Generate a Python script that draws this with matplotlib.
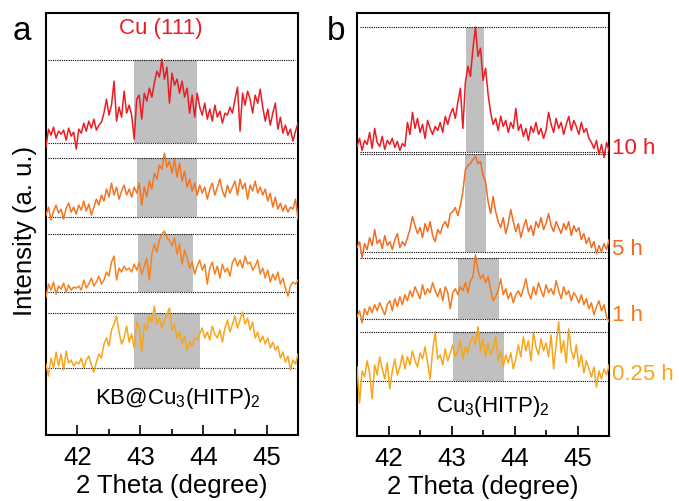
import numpy as np
import matplotlib
matplotlib.use("Agg")
import matplotlib.pyplot as plt

plt.rcParams['font.family'] = ['Liberation Sans', 'DejaVu Sans']
plt.rcParams['mathtext.fontset'] = 'custom'
plt.rcParams['mathtext.rm'] = 'Liberation Sans'
plt.rcParams['mathtext.it'] = 'Liberation Sans:italic'
plt.rcParams['mathtext.bf'] = 'Liberation Sans:bold'

# 2-theta grid shared by every scan
theta = np.linspace(41.5, 45.5, 101)

# panel a: KB@Cu3(HITP)2 scans, counts above each baseline (a.u.)
kb_1 = [-4, 14, 8, 16, 5, 12, 9, 13, 3, 15, 7, 11, -6,
        14, 10, 20, 12, 22, 15, 24, 13, 18, 21,
        30, 44, 28, 38, 62,
        22, 36, 26, 52, 30, 38, 28, 4,
        44, 48, 24, 50, 42, 55, 46,
        60, 72, 66, 84, 64, 76,
        40, 70, 58, 64, 50, 62, 46, 55,
        30, 48, 26, 50,
        36, 28, 40, 24, 34, 22, 38, 26, 32, 20, 30, 28, 36, 30,
        44, 56, 12, 50, 38, 52, 44, 30, 48, 40, 54, 36,
        22, 34, 18, 30, 40, 14, 26,
        10, 18, 8, 14, 2, 12, 20]
kb_2 = [2, 10, -3, 6, 12, 4, 8, -2, 9, 14, 5, 10, 3,
        12, 7, 16, 6, 13, 2, 10, 18, 12, 22,
        16, 28, 20, 34, 22,
        30, 18, 26, 32, 22, 28, 20, 30,
        24, 34, 12, 30, 20, 36, 28,
        44, 38, 52, 48, 64, 50,
        56, 44, 58, 40, 54, 36, 46, 30,
        38, 26, 34, 22,
        32, 24, 30, 18, 28, 34, 22, 30, 38, 26, 20, 32, 24, 30,
        36, 22, 38, 28, 34, 18, 32, 26, 36, 24, 30, 22,
        28, 16, 24, 10, 20, 8, 14,
        6, 12, 5, 10, 8, 18, -2]
kb_3 = [-5, 8, 2, 10, -2, 6, 3, 9, 0, 7, 2, 5, 4,
        6, 2, 12, 4, 8, 14, 6, 10, 16, 8,
        12, 20, 16, 30, 36,
        12, 24, 20, 26, 22, 24, 20, 28,
        22, 30, 18, 26, 34, 12, 38,
        48, 40, 52, 58, 61, 54,
        52, 46, 54, 38, 48, 28, 42, 34,
        24, 30, 18, 26,
        32, 22, 28, 8, 24, 30, 18, 26, 14, 28, 20, 24, 16, 30,
        34, 26, 32, 24, 36, 28, 30, 22, 26, 32, 18, 24,
        14, 22, 10, 18, 12, 20, 8,
        14, 4, -4, 6, 10, 8, 12]
kb_4 = [4, -8, 10, 0, 16, 2, 14, -2, 17, 5, 8, 2, 6,
        4, 10, 0, 8, 12, 3, -4, 6, 14, 10,
        24, 30, 22, 38, 44,
        52, 36, 24, 30, 42, 26, 34, 20,
        46, 40, 16, 44, 38, 52, 46,
        62, 44, 50, 40, 48, 54,
        60, 38, 44, 30, 36, 24, 32, 18,
        26, 22, 30, 28,
        34, 40, 30, 36, 28, 42, 34, 30, 38, 26, 40, 48, 36, 44,
        52, 40, 48, 56, 44, 50, 38, 46, 30, 36, 26, 32,
        24, 30, 20, 26, 18, 22, 10,
        16, 6, 12, -2, 8, 4, 14]

# panel b: Cu3(HITP)2 after 10 h, 5 h, 1 h and 0.25 h
cu_10h = [6, 14, 2, 12, 8, 20, 4, 24, 10, 6, 16, 3, 12, 8, 14, 5, 11, 2, 9, 6,
          30, 18, 40, 24, 34, 20, 28, 14, 32, 24, 18, 26, 22, 30, 20, 36, 28, 38,
          44, 34, 50, 64, 24,
          70, 86, 76, 104,
          125, 96, 104, 72, 84,
          58, 40,
          28, 34, 22, 36, 26, 32, 20, 30, 24, 44,
          22, 28, 16, 24, 12, 26, 20, 30, 18, 24, 14, 22, 40,
          28, 20, 34, 24, 30, 18, 28, 36, 22, 32, 26, 18, 30, 20, 24, 14,
          10, 4, 12, -2, 8, -5, 10, 2]
cu_5h = [4, 10, -6, 8, 2, 14, 6, 22, 8, 12, 3, 16, 6, 10, 2, 12, 18, 4, 10, 6,
         14, 22, 35, 26, 18, 24, 14, 28, 20, 30, 16, 10, 22, 18, 26, 30, 24, 38,
         40, 44, 36, 46, 60,
         82, 86, 88, 92,
         95, 88, 90, 76, 70,
         50, 38,
         55, 40, 30, 24, 34, 18, 28, 42, 30, 20,
         28, 14, 24, 32, 20, 26, 16, 30, 24, 34, 22, 28, 38,
         26, 20, 30, 24, 18, 28, 22, 30, 16, 26, 20, 24, 12, 18, 8, 14,
         4, 10, -2, 6, 0, 8, 2, 12]
cu_1h = [2, 8, -4, 10, 4, 12, 6, 14, 8, 16, 10, 4, 14, 18, 8, 20, 12, 22, 14, 24,
         18, 28, 22, 32, 26, 20, 34, 24, 30, 26, 36, 28, 22, 30, 18, 32, 26, 10,
         26, 30, 24, 32, 28,
         36, 26, 38, 42,
         64, 48, 40, 44, 36,
         42, 30,
         18, 22, 28, 40, 24, 30, 20, 26, 16, 24,
         28, 22, 30, 40, 26, 20, 32, 24, 36, 28, 22, 34, 26,
         30, 24, 38, 28, 20, 32, 24, 28, 18, 26, 22, 16, 24, 14, 20, 10,
         16, 4, 12, 18, 8, 14, 2, -3]
cu_025h = [14, -22, 10, 4, 20, 8, -18, 16, 6, 24, 12, 2, 18, -8, 10, 22, 6, 14, 26, 12,
           24, 16, 30, 20, 14, 28, 22, 34, 18, 2, 30, 49, 22, 26, 16, 32, 20, 28,
           36, 24, 30, 40, 22,
           34, 28, 40, 44,
           36, 54, 30, 42, 24,
           38, 26,
           32, 44, 20, 30, 14, 26, 18, 28, 12, 22,
           36, 24, 44, 30, 40, 20, 48, 34, 26, 42, 30, 38, 24,
           46, 12, 36, 59, 28, 40, 18, 52, 30, 22, 36, 14, 26, 8, 20, 12,
           4, 14, -6, 10, 2, 12, 6, 16]

# Cu (111) window highlighted on each scan
bands_a = [(42.89, 43.90), (42.94, 43.90), (42.96, 43.84), (42.89, 43.94)]
bands_b = [(43.23, 43.52), (43.21, 43.55), (43.10, 43.75), (43.02, 43.83)]
time_labels = ['10 h', '5 h', '1 h', '0.25 h']

# stacking: baseline and reference level of each scan
base_a = [292, 218, 143, 67]
top_a = [375, 277, 201, 122]
base_b = [283, 184, 117, 55]
top_b = [408, 281, 178, 104]

colors_a = ['#ec1c24', '#f47521', '#f58220', '#f9a51b']
colors_b = ['#ec1c24', '#f26b22', '#f47a20', '#f9a51b']

fig = plt.figure(figsize=(6.79, 5.01), dpi=100)
ax_a = fig.add_axes([0.0677, 0.1317, 0.3712, 0.842])
ax_b = fig.add_axes([0.5258, 0.1297, 0.3712, 0.844])


def draw_panel(ax, scans, bases, tops, bands, colors):
    for y, b, t, (x0, x1), c in zip(scans, bases, tops, bands, colors):
        ax.fill_between([x0, x1], b, t, color='#c0c0c0', lw=0, zorder=1)
        ax.hlines([b, t], 41.54, 45.46, colors='black', lw=0.8,
                  linestyles=(0, (1, 1)), zorder=2)
        ax.plot(theta, b + np.array(y), color=c, lw=1.1, zorder=3)
    ax.set_xlim(41.5, 45.5)
    ax.set_ylim(0, 422)
    ax.set_yticks([])
    ax.set_xticks([42, 43, 44, 45])
    ax.set_xticks(np.arange(41.5, 45.6, 0.5), minor=True)
    ax.tick_params(axis='x', which='major', direction='in', length=7,
                   width=1.2, labelsize=18.5, pad=8)
    ax.tick_params(axis='x', which='minor', direction='in', length=4, width=1.2)
    for s in ax.spines.values():
        s.set_linewidth(1.5)
    ax.set_xlabel('2 Theta (degree)', fontsize=18.5, labelpad=3)


draw_panel(ax_a, [kb_1, kb_2, kb_3, kb_4], base_a, top_a, bands_a, colors_a)
draw_panel(ax_b, [cu_10h, cu_5h, cu_1h, cu_025h], base_b, top_b, bands_b, colors_b)

ax_a.text(43.33, 407, 'Cu (111)', color='#ec1c24', fontsize=16,
          ha='center', va='center')
ax_a.text(43.6, 37, r'KB@Cu$_3$(HITP)$_2$', fontsize=16, ha='center', va='center')
ax_b.text(43.66, 29, r'Cu$_3$(HITP)$_2$', fontsize=16, ha='center', va='center')

label_y = [287, 186, 120, 61]
for ly, lab, c in zip(label_y, time_labels, colors_b):
    ax_b.text(45.55, ly, lab, color=c, fontsize=16, ha='left', va='center',
              clip_on=False)

fig.text(25 / 679, 1 - 231 / 501, 'Intensity (a. u.)', rotation=90,
         fontsize=18.5, ha='center', va='center')
fig.text(22 / 679, 1 - 32 / 501, 'a', fontsize=24, ha='center', va='center')
fig.text(336 / 679, 1 - 32 / 501, 'b', fontsize=24, ha='center', va='center')

fig.savefig('out.png', dpi=100)
